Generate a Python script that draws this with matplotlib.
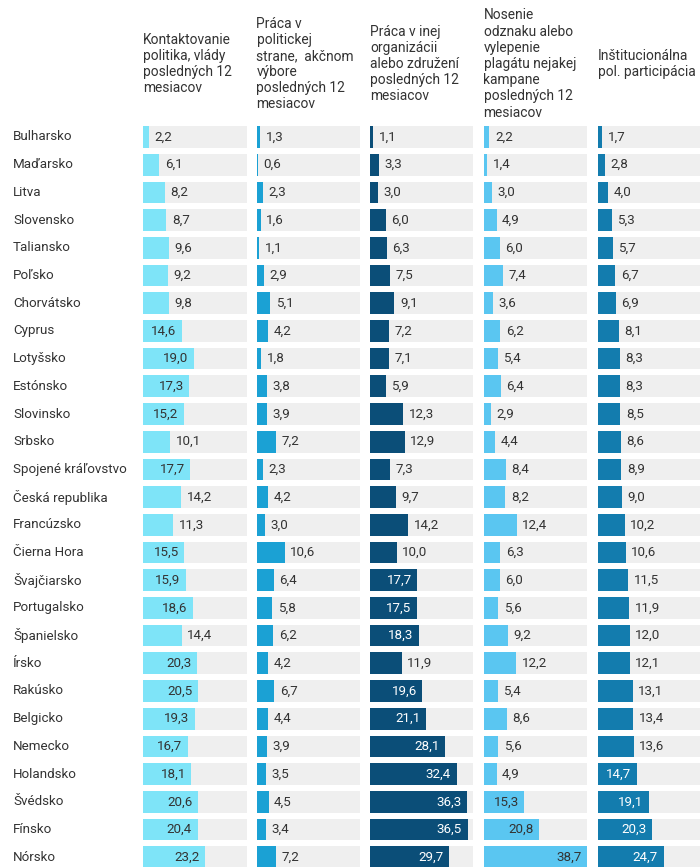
import matplotlib
matplotlib.use("Agg")
import matplotlib.pyplot as plt

plt.rcParams['font.family'] = ['Roboto', 'DejaVu Sans']

countries = ["Bulharsko", "Maďarsko", "Litva", "Slovensko", "Taliansko", "Poľsko",
             "Chorvátsko", "Cyprus", "Lotyšsko", "Estónsko", "Slovinsko", "Srbsko",
             "Spojené kráľovstvo", "Česká republika", "Francúzsko", "Čierna Hora",
             "Švajčiarsko", "Portugalsko", "Španielsko", "Írsko", "Rakúsko",
             "Belgicko", "Nemecko", "Holandsko", "Švédsko", "Fínsko", "Nórsko"]

kontakt = [2.2, 6.1, 8.2, 8.7, 9.6, 9.2, 9.8, 14.6, 19.0, 17.3, 15.2, 10.1, 17.7, 14.2,
           11.3, 15.5, 15.9, 18.6, 14.4, 20.3, 20.5, 19.3, 16.7, 18.1, 20.6, 20.4, 23.2]
strana = [1.3, 0.6, 2.3, 1.6, 1.1, 2.9, 5.1, 4.2, 1.8, 3.8, 3.9, 7.2, 2.3, 4.2,
          3.0, 10.6, 6.4, 5.8, 6.2, 4.2, 6.7, 4.4, 3.9, 3.5, 4.5, 3.4, 7.2]
organizacia = [1.1, 3.3, 3.0, 6.0, 6.3, 7.5, 9.1, 7.2, 7.1, 5.9, 12.3, 12.9, 7.3, 9.7,
               14.2, 10.0, 17.7, 17.5, 18.3, 11.9, 19.6, 21.1, 28.1, 32.4, 36.3, 36.5, 29.7]
odznak = [2.2, 1.4, 3.0, 4.9, 6.0, 7.4, 3.6, 6.2, 5.4, 6.4, 2.9, 4.4, 8.4, 8.2,
          12.4, 6.3, 6.0, 5.6, 9.2, 12.2, 5.4, 8.6, 5.6, 4.9, 15.3, 20.8, 38.7]
institucionalna = [1.7, 2.8, 4.0, 5.3, 5.7, 6.7, 6.9, 8.1, 8.3, 8.3, 8.5, 8.6, 8.9, 9.0,
                   10.2, 10.6, 11.5, 11.9, 12.0, 12.1, 13.1, 13.4, 13.6, 14.7, 19.1, 20.3, 24.7]

headers = [
    "Kontaktovanie\npolitika, vlády\nposledných 12\nmesiacov",
    "Práca v\npolitickej\nstrane,  akčnom\nvýbore\nposledných 12\nmesiacov",
    "Práca v inej\norganizácii\nalebo združení\nposledných 12\nmesiacov",
    "Nosenie\nodznaku alebo\nvylepenie\nplagátu nejakej\nkampane\nposledných 12\nmesiacov",
    "Inštitucionálna\npol. participácia",
]

series = [kontakt, strana, organizacia, odznak, institucionalna]
colors = ["#7ee4f8", "#1ba1d4", "#0b4e78", "#5ac6f1", "#137cae"]
inside_text = ["#333333", "#ffffff", "#ffffff", "#333333", "#ffffff"]

W, H = 700, 867
fig = plt.figure(figsize=(W / 100, H / 100), dpi=100)
fig.patch.set_facecolor("white")

n = len(countries)
row_step = 27.7
first_row = 137
top_px = first_row - row_step / 2
bottom_px = first_row + (n - 0.5) * row_step
col_left = [143, 256.5, 370, 483.5, 597.5]
col_w = 103.5
xmax = max(max(s) for s in series)

for i, vals in enumerate(series):
    ax = fig.add_axes([col_left[i] / W, 1 - bottom_px / H, col_w / W,
                       (bottom_px - top_px) / H])
    ax.set_xlim(0, xmax)
    ax.set_ylim(n - 0.5, -0.5)
    ax.axis("off")
    ypos = list(range(n))
    ax.barh(ypos, [xmax] * n, height=0.78, color="#efefef", zorder=1)
    ax.barh(ypos, vals, height=0.78, color=colors[i], zorder=2)
    for y, v in zip(ypos, vals):
        lab = f"{v:.1f}".replace(".", ",")
        if v >= 14.5:
            ax.annotate(lab, (v, y), xytext=(-4, 0), textcoords="offset points",
                        ha="right", va="center", fontsize=9.6, color=inside_text[i], zorder=3)
        else:
            ax.annotate(lab, (v, y), xytext=(4, 0), textcoords="offset points",
                        ha="left", va="center", fontsize=9.6, color="#333333", zorder=3)
    fig.text(col_left[i] / W, 1 - 64 / H, headers[i], ha="left", va="center",
             fontsize=9.9, color="#333333", linespacing=1.2)

for j, c in enumerate(countries):
    fig.text(13 / W, 1 - (first_row + j * row_step) / H, c, ha="left", va="center",
             fontsize=9.6, color="#333333")

fig.savefig("out.png", dpi=100)
